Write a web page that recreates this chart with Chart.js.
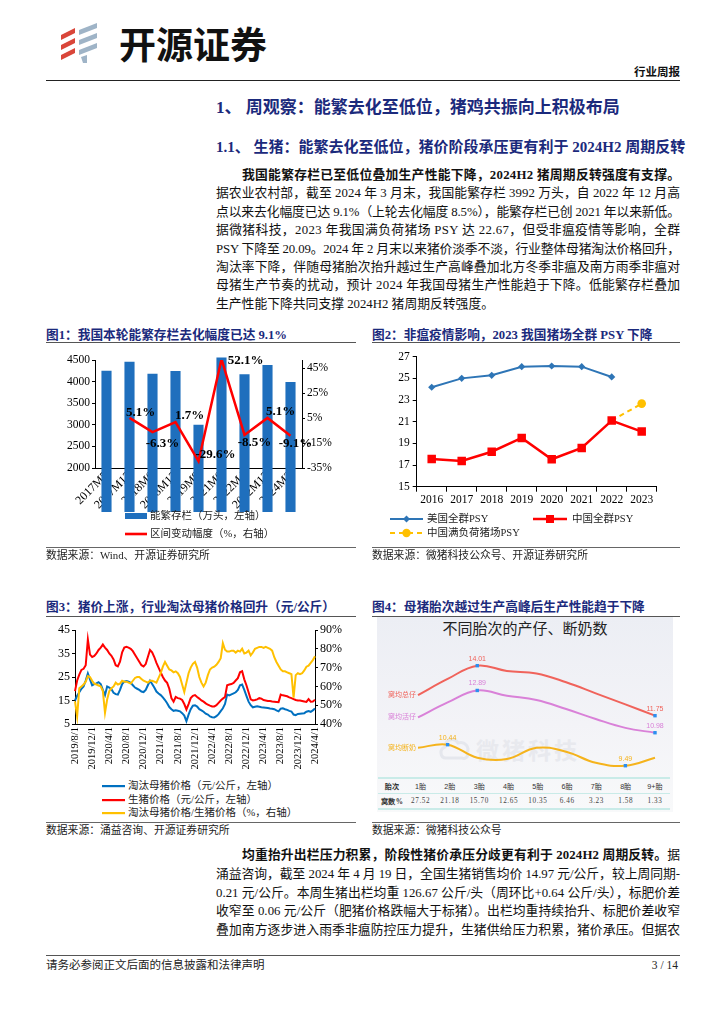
<!DOCTYPE html>
<html lang="zh-CN">
<head>
<meta charset="UTF-8" />
<title>开源证券 | 行业周报</title>
<script src="https://cdn.jsdelivr.net/npm/chart.js"></script>
<style>
  html, body { margin: 0; padding: 0; background: #fff; }
  body {
    width: 724px; height: 1024px; position: relative; overflow: hidden;
    font-family: "Liberation Serif", "Noto Sans CJK SC", serif; color: #111;
  }
  .abs { position: absolute; white-space: nowrap; }
  .rule { position: absolute; height: 0; }
  .ln { position: absolute; height: 18px; line-height: 18px; font-size: 12.8px; white-space: nowrap; }
  .jl { display: inline-block; }
  .ftitle { position: absolute; height: 16px; line-height: 16px; font-size: 12.7px; font-weight: bold; color: #1b2a7c; white-space: nowrap; }
  .src { position: absolute; height: 14px; line-height: 14px; font-size: 10.8px; color: #222; white-space: nowrap; }
  .lg { position: absolute; height: 14px; line-height: 14px; font-size: 10.5px; color: #222; white-space: nowrap; display: flex; align-items: center; }
  .lg svg { display: block; }
  canvas { position: absolute; }
  .tbl { position: absolute; left: 378px; top: 777px; border-collapse: collapse; font-family: "Liberation Sans", "Noto Sans CJK SC", sans-serif; }
  .tbl td { height: 14px; padding: 0; text-align: center; font-size: 7.2px; color: #444; }
  .tbl tr.hd td { border-top: 2px solid #c9ebe8; border-bottom: 1.5px solid #c9ebe8; color: #333; }
  .tbl tr.vl td { border-bottom: 2px solid #c9ebe8; font-family: "Liberation Serif", serif; letter-spacing: 0.6px; }
  .tbl td.first { width: 28px; font-weight: bold; color: #333; letter-spacing: 0; font-family: "Noto Sans CJK SC", sans-serif; }
  .tbl td.col { width: 29.3px; }
</style>
</head>
<body>

<!-- 页眉 -->
<svg class="abs" style="left:58px; top:21px;" width="44" height="44" viewBox="0 0 44 44">
  <g fill="#d9463a">
    <path d="M3 14 L17 7 L17 12 L3 19 Z" />
    <path d="M3 24 L17 17 L17 22 L3 29 Z" />
    <path d="M3 34 L17 27 L17 32 L3 39 Z" />
  </g>
  <g fill="#9fb4c7">
    <path d="M21 9 L39 2 L39 7 L21 14 Z" />
    <path d="M21 19 L39 12 L39 17 L21 24 Z" />
    <path d="M21 29 L39 22 L39 27 L21 34 Z" />
    <path d="M23 36 L29 34 L29 42 L25 42 Z" />
  </g>
</svg>
<div class="abs" style="left:119px; top:22px; height:42px; line-height:42px; font-size:37px; font-weight:bold; color:#111; font-family:'Noto Sans CJK SC', sans-serif;">开源证券</div>
<div class="abs" style="right:44px; top:65px; height:14px; line-height:14px; font-size:11.5px; font-weight:bold; color:#111;">行业周报</div>
<div class="rule" style="left:46px; top:79.5px; width:634px; border-top:1.5px solid #222;"></div>

<!-- 标题 -->
<div class="abs" style="left:216px; top:98px; height:20px; line-height:20px; font-size:17px; font-weight:bold; color:#1b2a7c;">1、 周观察：能繁去化至低位，猪鸡共振向上积极布局</div>
<div class="abs" style="left:216px; top:138px; height:18px; line-height:18px; font-size:15px; font-weight:bold; color:#1b2a7c;">1.1、 生猪：能繁去化至低位，猪价阶段承压更有利于 2024H2 周期反转</div>

<!-- 正文一 -->
<div class="ln" style="left:242px; top:166px;"><span class="jl" data-w="438"><b>我国能繁存栏已至低位叠加生产性能下降，2024H2 猪周期反转强度有支撑。</b></span></div>
<div class="ln" style="left:216px; top:184.4px;"><span class="jl" data-w="464">据农业农村部，截至 2024 年 3 月末，我国能繁存栏 3992 万头，自 2022 年 12 月高</span></div>
<div class="ln" style="left:216px; top:202.8px;"><span class="jl" data-w="464">点以来去化幅度已达 9.1%（上轮去化幅度 8.5%），能繁存栏已创 2021 年以来新低。</span></div>
<div class="ln" style="left:216px; top:221.2px;"><span class="jl" data-w="464">据微猪科技，2023 年我国满负荷猪场 PSY 达 22.67，但受非瘟疫情等影响，全群</span></div>
<div class="ln" style="left:216px; top:239.6px;"><span class="jl" data-w="464">PSY 下降至 20.09。2024 年 2 月末以来猪价淡季不淡，行业整体母猪淘汰价格回升，</span></div>
<div class="ln" style="left:216px; top:258px;"><span class="jl" data-w="464">淘汰率下降，伴随母猪胎次抬升越过生产高峰叠加北方冬季非瘟及南方雨季非瘟对</span></div>
<div class="ln" style="left:216px; top:276.4px;"><span class="jl" data-w="464">母猪生产节奏的扰动，预计 2024 年我国母猪生产性能趋于下降。低能繁存栏叠加</span></div>
<div class="ln" style="left:216px; top:294.8px;"><span>生产性能下降共同支撑 2024H2 猪周期反转强度。</span></div>

<!-- 图1 / 图2 标题 -->
<div class="ftitle" style="left:46px; top:327px;">图1：我国本轮能繁存栏去化幅度已达 9.1%</div>
<div class="ftitle" style="left:372px; top:327px;">图2：非瘟疫情影响，2023 我国猪场全群 PSY 下降</div>
<div class="rule" style="left:46px; top:342px; width:310px; border-top:1.5px solid #555;"></div>
<div class="rule" style="left:372px; top:342px; width:308px; border-top:1.5px solid #555;"></div>

<canvas id="c1" width="314" height="167" style="left:46px; top:345px;"></canvas>
<canvas id="c2" width="300" height="165" style="left:372px; top:345px;"></canvas>

<div class="lg" style="left:125px; top:508.5px;"><svg width="25" height="8"><rect x="0" y="1" width="22" height="6" fill="#1f6fbd" /></svg><span>能繁存栏（万头，左轴）</span></div>
<div class="lg" style="left:125px; top:527px;"><svg width="25" height="8"><rect x="0" y="2.7" width="22" height="2.6" fill="#ff0000" /></svg><span>区间变动幅度（%，右轴）</span></div>

<div class="lg" style="left:390px; top:512px;"><svg width="37" height="10"><line x1="0" y1="5" x2="33" y2="5" stroke="#2e75b6" stroke-width="2" /><path d="M16.5 1.5 L20 5 L16.5 8.5 L13 5 Z" fill="#2e75b6" /></svg><span>美国全群PSY</span></div>
<div class="lg" style="left:533px; top:512px;"><svg width="39" height="10"><line x1="0" y1="5" x2="34" y2="5" stroke="#ff0000" stroke-width="2.5" /><rect x="13" y="1" width="8" height="8" fill="#ff0000" /></svg><span>中国全群PSY</span></div>
<div class="lg" style="left:390px; top:526px;"><svg width="37" height="10"><line x1="0" y1="5" x2="33" y2="5" stroke="#ffc000" stroke-width="2" stroke-dasharray="5 4" /><circle cx="16.5" cy="5" r="4.2" fill="#ffc000" /></svg><span>中国满负荷猪场PSY</span></div>

<div class="rule" style="left:46px; top:547px; width:310px; border-top:1px solid #666;"></div>
<div class="rule" style="left:372px; top:547px; width:308px; border-top:1px solid #666;"></div>
<div class="src" style="left:46px; top:548px;">数据来源：Wind、开源证券研究所</div>
<div class="src" style="left:372px; top:548px;">数据来源：微猪科技公众号、开源证券研究所</div>

<!-- 图3 / 图4 标题 -->
<div class="ftitle" style="left:46px; top:599px;">图3：猪价上涨，行业淘汰母猪价格回升（元/公斤）</div>
<div class="ftitle" style="left:372px; top:599px;">图4：母猪胎次越过生产高峰后生产性能趋于下降</div>
<div class="rule" style="left:46px; top:615.5px; width:310px; border-top:1.5px solid #555;"></div>
<div class="rule" style="left:372px; top:615.5px; width:308px; border-top:1.5px solid #555;"></div>

<canvas id="c3" width="314" height="150" style="left:46px; top:620px;"></canvas>

<div class="lg" style="left:102px; top:779px;"><svg width="26" height="6"><rect x="0" y="2" width="23" height="2.2" fill="#0070c0" /></svg><span>淘汰母猪价格（元/公斤，左轴）</span></div>
<div class="lg" style="left:102px; top:792.5px;"><svg width="26" height="6"><rect x="0" y="2" width="23" height="2.2" fill="#ff0000" /></svg><span>生猪价格（元/公斤，左轴）</span></div>
<div class="lg" style="left:102px; top:806px;"><svg width="26" height="6"><rect x="0" y="2" width="23" height="2.2" fill="#ffc000" /></svg><span>淘汰母猪价格/生猪价格（%，右轴）</span></div>

<!-- 图4 底图 -->
<div class="abs" style="left:377px; top:617px; width:296px; height:195px; background:linear-gradient(180deg,#eceef4 0%,#f3f3f7 55%,#f8f9fa 100%);"></div>
<svg class="abs" style="left:438px; top:734px;" width="34" height="28" viewBox="0 0 34 28"><path d="M8 24 C2 24 1 15 7 13 C7 5 17 3 20 9 C27 7 32 13 29 19 C31 24 26 25 24 24 Z" fill="none" stroke="#e5e7ed" stroke-width="3" /></svg>
<div class="abs" style="left:476px; top:735px; height:28px; line-height:28px; font-size:23px; font-weight:bold; color:#e8e9ee; letter-spacing:3px; font-family:'Noto Sans CJK SC', sans-serif;">微猪科技</div>
<div class="abs" style="left:377px; top:618px; width:296px; height:20px; line-height:20px; text-align:center; font-size:15px; color:#222; font-family:'Noto Sans CJK SC', sans-serif;">不同胎次的产仔、断奶数</div>
<canvas id="c4" width="295" height="135" style="left:378px; top:640px;"></canvas>
<table class="tbl" id="c4table">
  <tr class="hd" id="c4head"><td class="first">胎次</td></tr>
  <tr class="vl" id="c4vals"><td class="first">窝数%</td></tr>
</table>

<div class="rule" style="left:46px; top:821.5px; width:310px; border-top:1px solid #666;"></div>
<div class="rule" style="left:372px; top:821.5px; width:308px; border-top:1px solid #666;"></div>
<div class="src" style="left:46px; top:823px;">数据来源：涌益咨询、开源证券研究所</div>
<div class="src" style="left:372px; top:823px;">数据来源：微猪科技公众号</div>

<!-- 正文二 -->
<div class="ln" style="left:242px; top:846px;"><span class="jl" data-w="438"><b>均重抬升出栏压力积累，阶段性猪价承压分歧更有利于 2024H2 周期反转。</b>据</span></div>
<div class="ln" style="left:216px; top:864.8px;"><span class="jl" data-w="464">涌益咨询，截至 2024 年 4 月 19 日，全国生猪销售均价 14.97 元/公斤，较上周同期-</span></div>
<div class="ln" style="left:216px; top:883.5px;"><span class="jl" data-w="464">0.21 元/公斤。本周生猪出栏均重 126.67 公斤/头（周环比+0.64 公斤/头），标肥价差</span></div>
<div class="ln" style="left:216px; top:902.3px;"><span class="jl" data-w="464">收窄至 0.06 元/公斤（肥猪价格跌幅大于标猪）。出栏均重持续抬升、标肥价差收窄</span></div>
<div class="ln" style="left:216px; top:921px;"><span class="jl" data-w="464">叠加南方逐步进入雨季非瘟防控压力提升，生猪供给压力积累，猪价承压。但据农</span></div>

<!-- 页脚 -->
<div class="rule" style="left:46px; top:955px; width:634px; border-top:1.5px solid #555;"></div>
<div class="abs" style="left:46px; top:958px; height:15px; line-height:15px; font-size:11.5px; color:#222;">请务必参阅正文后面的信息披露和法律声明</div>
<div class="abs" style="right:46px; top:958px; height:15px; line-height:15px; font-size:11.5px; color:#222;">3 / 14</div>

<script>
  // 图1 数据
  const c1Cats = ["2017M5", "2017M12", "2018M6", "2018M12", "2019M9", "2021M6", "2022M4", "2022M12", "2024M3"];
  const c1Stock = [4250, 4460, 4180, 4245, 3000, 4560, 4170, 4385, 3992];
  const c1Change = [null, 5.1, -6.3, 1.7, -29.6, 52.1, -8.5, 5.1, -9.1];
  const c1RightTicks = [-35, -15, 5, 25, 45];

  // 图2 数据
  const c2Years = ["2016", "2017", "2018", "2019", "2020", "2021", "2022", "2023"];
  const c2Us = [24.18, 25.0, 25.28, 26.08, 26.14, 26.08, 25.13, null];
  const c2Cn = [17.56, 17.37, 18.23, 19.5, 17.53, 18.57, 21.1, 20.09];
  const c2Full = [null, null, null, null, null, null, 21.1, 22.67];

  // 图3 数据（半月取值）
  const c3TickLabels = ["2019/8/1", "2019/12/1", "2020/4/1", "2020/8/1", "2020/12/1", "2021/4/1", "2021/8/1", "2021/12/1",
    "2022/4/1", "2022/8/1", "2022/12/1", "2023/4/1", "2023/8/1", "2023/12/1", "2024/4/1"];
  const c3Dates = [];
  for (let y = 2019, m = 8; ; ) {
    c3Dates.push(y + "/" + m + "/1");
    if (y === 2024 && m === 4) break;
    c3Dates.push(y + "/" + m + "/16");
    m++;
    if (m > 12) { m = 1; y++; }
  }
  const c3Sow = [
    15, 17, 18.5, 20, 21, 23.5, 26.5, 24, 21.5, 22,
    22.3, 22.8, 22, 19.5, 17.3, 21, 20.5, 19.8, 18.3, 17.7, 17.5, 19.5, 22, 23, 23.3, 23, 22.5, 21.5, 20.5, 20, 19.5, 18.8, 18.6, 19.5,
    21.5, 23.4, 22, 20.5, 18.8, 18, 17.3, 16.3, 15.2, 13.8, 12.2, 11.3, 10.6, 10.8, 10.6, 10.4, 9.6, 8.6, 6.2, 9, 11.3, 12.8, 13, 12.4,
    11.3, 10.8, 10.2, 9.4, 9, 8.2, 7.9, 7.8, 8.3, 9.2, 10.5, 11.7, 13.5, 17.5, 17.2, 17.6, 18, 18.5, 19.5, 21.5, 21.8, 19.5, 17, 14.5,
    13, 12.1, 12.3, 12.5, 12.3, 12.1, 12, 11.9, 11.8, 11.6, 11.5, 11.3, 10.8, 10.4, 11.5, 11.7, 11.3, 11, 10.6, 10.3, 9, 8.8, 9.3, 9.4,
    9.5, 9.6, 10.2, 10.5, 10.2, 10.8, 11.6
  ];
  const c3Hog = [
    19, 23.5, 26, 28, 28.5, 30, 41, 34.5, 33.5, 34,
    35, 36.5, 37.5, 38.8, 37.5, 36.5, 35, 34, 32.5, 30, 29.5, 31.5, 35.5, 37.5, 37.8, 37.5, 37, 36, 34.5, 33, 31.5, 30, 29.5, 30.5,
    33.5, 36.5, 35.5, 33.5, 31, 29, 27, 25, 23.5, 22.5, 20, 16, 14.5, 16.5, 16, 15.8, 15.2, 13.5, 11.2, 13.5, 16, 17, 17.3, 16.5,
    15.8, 15, 14.5, 13.8, 13.2, 12.8, 12.5, 12.5, 13, 14, 15, 15.8, 16.5, 21.5, 21.8, 22, 22.5, 23.5, 24.5, 27, 27.5, 24, 21.5, 18.5,
    15.5, 15, 15.2, 15.5, 16, 15.8, 15.2, 15, 14.8, 14.8, 14.6, 14.5, 14.4, 14.3, 17.5, 17.2, 17, 16.8, 16.3, 16, 15.6, 15.2, 15, 15,
    14.8, 14.6, 14.4, 15.6, 14.5, 14.6, 15.3
  ];
  const c3Ratio = [
    52, 44, 59, 60, 61, 62.5, 65.5, 65, 63, 61.5,
    61, 60.5, 60, 57.5, 46, 53, 57.5, 59, 60, 62, 61, 61.5, 63, 62.5, 62.5, 62, 61.5, 63, 64.5, 65, 65, 64, 63, 62.5,
    62, 63, 63, 62.5, 62, 64.5, 67, 70.5, 73, 71, 69, 68.5, 67.5, 68, 67, 65, 61, 57, 62, 67, 70, 72, 73, 70,
    65, 62, 60, 62, 66, 69, 70, 70.5, 71.5, 73, 75, 83, 79.5, 78.5, 78.5, 79, 79, 78, 79, 78.5, 80, 77.5, 78, 79,
    76.5, 78, 80, 80.5, 81, 81, 80.5, 81, 80.5, 80, 79, 75.5, 73, 71, 69, 68, 68, 67.5, 67, 66.5, 54, 66, 67, 66.5,
    67, 68.5, 70.5, 71, 72.5, 74, 76
  ];

  // 图4 数据
  const c4Parity = ["1胎", "2胎", "3胎", "4胎", "5胎", "6胎", "7胎", "8胎", "9+胎"];
  const c4Total = [12.68, 13.41, 14.01, 13.77, 13.66, 13.26, 12.76, 12.26, 11.75];
  const c4Alive = [11.67, 12.35, 12.89, 12.65, 12.46, 12.05, 11.6, 11.2, 10.98];
  const c4Weaned = [10.3, 10.44, 9.85, 9.79, 10.3, 10.12, 9.62, 9.49, 9.85];
  const c4Share = ["27.52", "21.18", "15.70", "12.65", "10.35", "6.46", "3.23", "1.58", "1.33"];

  Chart.defaults.font.family = '"Liberation Serif", "Noto Sans CJK SC", serif';
  Chart.defaults.font.size = 11;
  Chart.defaults.color = "#000";
  Chart.defaults.animation = false;
  Chart.defaults.responsive = false;
  Chart.defaults.maintainAspectRatio = false;
  Chart.defaults.plugins.legend.display = false;
  Chart.defaults.plugins.tooltip.enabled = false;

  const fixW = (w) => (s) => { s.width = w; };
  const fixH = (h) => (s) => { s.height = h; };
  const axisGrid = (len) => ({ display: true, drawOnChartArea: false, drawTicks: len > 0, tickLength: len, color: "#000" });

  // 图1 数据标签（相对折线点的偏移）
  const c1LabelOffsets = [null, [11, -5], [10, 11], [14, -7], [17, -7], [24, 1], [10, 8], [13, -6], [5, 8]];
  const c1Labels = {
    id: "c1Labels",
    afterDatasetsDraw(chart) {
      const ctx = chart.ctx;
      const meta = chart.getDatasetMeta(0);
      ctx.save();
      ctx.font = 'bold 13px "Liberation Serif", serif';
      ctx.fillStyle = "#000";
      ctx.textAlign = "center";
      ctx.textBaseline = "middle";
      c1Change.forEach((v, i) => {
        if (v === null) return;
        const p = meta.data[i];
        const off = c1LabelOffsets[i];
        ctx.fillText(v.toFixed(1) + "%", p.x + off[0], p.y + off[1]);
      });
      ctx.restore();
    },
  };

  new Chart(document.getElementById("c1"), {
    data: {
      labels: c1Cats,
      datasets: [
        { type: "line", data: c1Change, yAxisID: "y1", borderColor: "#ff0000", borderWidth: 2.5, pointRadius: 0, order: 0 },
        { type: "bar", data: c1Stock, yAxisID: "y", backgroundColor: "#1f6fbd", barPercentage: 0.44, categoryPercentage: 1, order: 1, clip: false },
      ],
    },
    options: {
      layout: { padding: { top: 15 } },
      scales: {
        x: {
          offset: true,
          grid: axisGrid(0),
          border: { color: "#000" },
          ticks: { autoSkip: false, minRotation: 45, maxRotation: 45, padding: 1, font: { size: 12 } },
          afterFit: fixH(44),
        },
        y: {
          position: "left", min: 2000, max: 4500,
          ticks: { stepSize: 500, padding: 2, font: { size: 11.5 }, callback: (v) => String(v) },
          grid: axisGrid(3), border: { color: "#000" },
          afterFit: fixW(49),
        },
        y1: {
          position: "right", min: -35, max: 51.5,
          afterBuildTicks: (s) => { s.ticks = c1RightTicks.map((v) => ({ value: v })); },
          ticks: { callback: (v) => v + "%", padding: 2, font: { size: 11.5 } },
          grid: axisGrid(3), border: { color: "#000" },
          afterFit: fixW(58),
        },
      },
    },
    plugins: [c1Labels],
  });

  // 图2
  new Chart(document.getElementById("c2"), {
    type: "line",
    data: {
      labels: c2Years,
      datasets: [
        { label: "美国全群PSY", data: c2Us, borderColor: "#2e75b6", backgroundColor: "#2e75b6", borderWidth: 2, pointStyle: "rectRot", pointRadius: 3.6, pointBorderWidth: 0, order: 0 },
        { label: "中国全群PSY", data: c2Cn, borderColor: "#ff0000", backgroundColor: "#ff0000", borderWidth: 2.5, pointStyle: "rect", pointRadius: 6, pointBorderWidth: 0, order: 1 },
        { label: "中国满负荷猪场PSY", data: c2Full, borderColor: "#ffc000", backgroundColor: "#ffc000", borderWidth: 2, borderDash: [5, 4], pointStyle: "circle",
          pointRadius: (c) => (c.dataIndex === 7 ? 4.3 : 0), pointBorderWidth: 0, order: 2 },
      ],
    },
    options: {
      layout: { padding: { top: 11.7, right: 15.3 } },
      scales: {
        x: {
          offset: true,
          grid: Object.assign(axisGrid(5), { offset: true }),
          border: { color: "#000" },
          ticks: { padding: 1, font: { size: 11.5 } },
          afterFit: fixH(23.3),
        },
        y: {
          min: 15, max: 27,
          ticks: { stepSize: 2, padding: 3, font: { size: 11.5 } },
          grid: axisGrid(4), border: { color: "#000" },
          afterFit: fixW(44.7),
        },
      },
    },
  });

  // 图3
  new Chart(document.getElementById("c3"), {
    type: "line",
    data: {
      labels: c3Dates,
      datasets: [
        { data: c3Ratio, yAxisID: "y1", borderColor: "#ffc000", borderWidth: 2, order: 0 },
        { data: c3Hog, yAxisID: "y", borderColor: "#ff0000", borderWidth: 2, order: 1 },
        { data: c3Sow, yAxisID: "y", borderColor: "#0070c0", borderWidth: 2, order: 2 },
      ],
    },
    options: {
      elements: { point: { radius: 0 }, line: { tension: 0 } },
      layout: { padding: { top: 10 } },
      scales: {
        x: {
          offset: false,
          grid: axisGrid(0),
          border: { color: "#000" },
          ticks: {
            autoSkip: false, minRotation: 90, maxRotation: 90, padding: 3, font: { size: 10.5 },
            callback: (v, i) => (c3TickLabels.includes(c3Dates[i]) ? c3Dates[i] : null),
          },
          afterFit: fixH(46),
        },
        y: {
          min: 5, max: 45,
          ticks: { stepSize: 10, padding: 2, font: { size: 12 } },
          grid: axisGrid(3), border: { color: "#000" },
          afterFit: fixW(29),
        },
        y1: {
          position: "right", min: 40, max: 90,
          ticks: { stepSize: 10, padding: 2, font: { size: 12 }, callback: (v) => v + "%" },
          grid: axisGrid(3), border: { color: "#000" },
          afterFit: fixW(45),
        },
      },
    },
  });

  // 图4
  const c4Marked = [[2, 8], [2, 8], [1, 7]];
  const c4Labels = {
    id: "c4Labels",
    afterDatasetsDraw(chart) {
      const ctx = chart.ctx;
      ctx.save();
      ctx.font = '7px "Liberation Sans", "Noto Sans CJK SC", sans-serif';
      ctx.textBaseline = "middle";
      chart.data.datasets.forEach((ds, di) => {
        const meta = chart.getDatasetMeta(di);
        const p0 = meta.data[0];
        ctx.fillStyle = ds.borderColor;
        ctx.textAlign = "right";
        ctx.fillText(ds.label, p0.x - 2, p0.y);
        c4Marked[di].forEach((i) => {
          const p = meta.data[i];
          ctx.fillStyle = "#2b8ff0";
          ctx.fillRect(p.x - 1.7, p.y - 1.7, 3.4, 3.4);
          ctx.fillStyle = ds.borderColor;
          ctx.textAlign = "center";
          ctx.fillText(ds.data[i].toFixed(2), p.x, p.y - 7);
        });
      });
      ctx.restore();
    },
  };

  new Chart(document.getElementById("c4"), {
    type: "line",
    data: {
      labels: c4Parity,
      datasets: [
        { label: "窝均总仔", data: c4Total, borderColor: "#f0635b" },
        { label: "窝均活仔", data: c4Alive, borderColor: "#d981d8" },
        { label: "窝均断奶", data: c4Weaned, borderColor: "#f5b31c" },
      ],
    },
    options: {
      layout: { padding: { left: 40, right: 18 } },
      elements: { point: { radius: 0 }, line: { tension: 0.4, borderWidth: 2 } },
      scales: {
        x: { display: false, offset: false },
        y: { display: false, min: 9.07, max: 15.17 },
      },
    },
    plugins: [c4Labels],
  });

  const head = document.getElementById("c4head");
  const vals = document.getElementById("c4vals");
  c4Parity.forEach((p, i) => {
    const a = document.createElement("td");
    a.className = "col";
    a.textContent = p;
    head.appendChild(a);
    const b = document.createElement("td");
    b.className = "col";
    b.textContent = c4Share[i];
    vals.appendChild(b);
  });

  // 每行两端对齐
  function justifyLines() {
    document.querySelectorAll(".jl").forEach((el) => {
      el.style.letterSpacing = "0px";
      const w = el.getBoundingClientRect().width;
      const n = el.textContent.length;
      const target = parseFloat(el.dataset.w);
      el.style.letterSpacing = (target - w) / (n - 1) + "px";
    });
  }
  justifyLines();
  if (document.fonts) document.fonts.ready.then(justifyLines);
</script>
</body>
</html>
